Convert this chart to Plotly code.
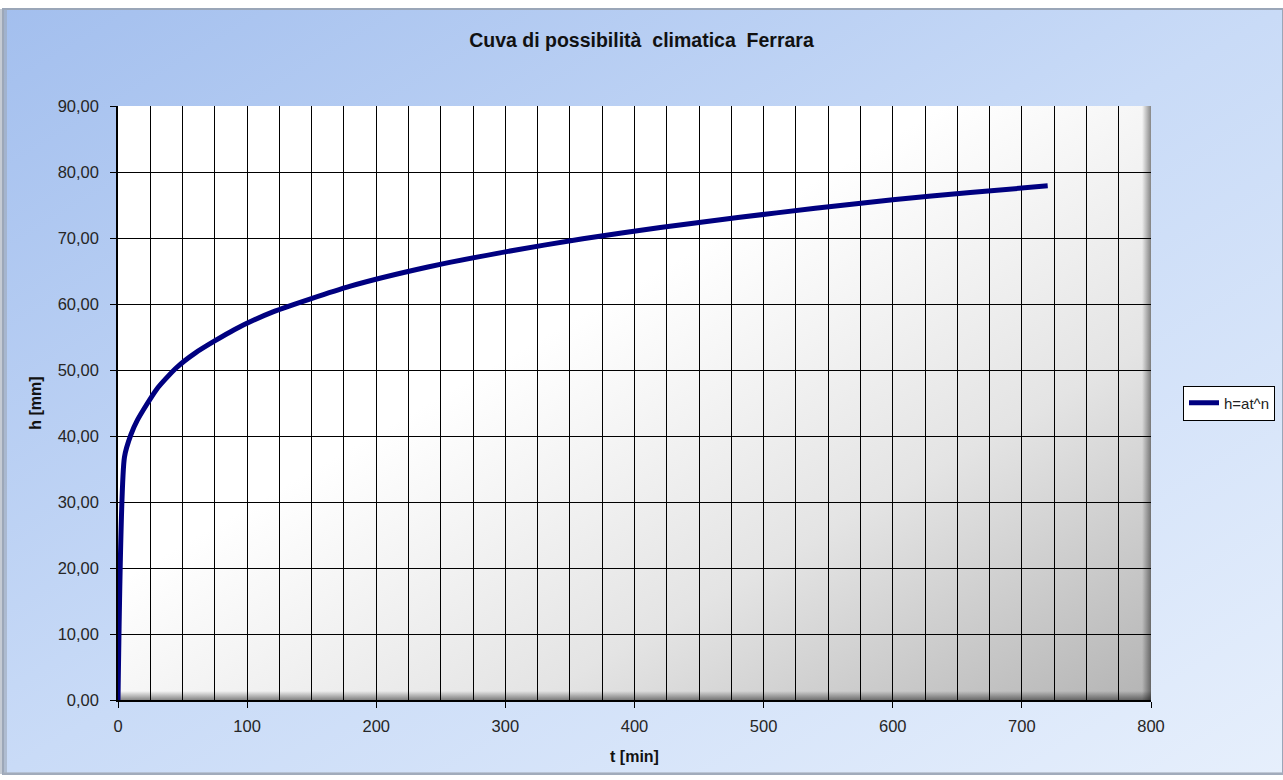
import base64
import plotly.graph_objects as go

# Data
t_min = [0, 5, 10, 15, 30, 45, 60, 90, 120, 180, 240, 300, 360, 420, 480, 540, 600, 660, 720]
h_mm = [0.0, 36.8, 40.2, 42.4, 47.1, 50.3, 52.6, 56.1, 58.8, 62.7, 65.6, 67.9, 69.9, 71.6, 73.1, 74.5, 75.8, 76.9, 77.9]
series_name = "h=at^n"
title_text = "Cuva di possibilità  climatica  Ferrara"
x_title = "t [min]"
y_title = "h [mm]"

W, H = 1283, 780
L, R, T, B = 118, 132, 106, 80
PW, PH = W - L - R, H - T - B

FONT = "Liberation Sans, Arial, sans-serif"

bg_svg = f'''<svg xmlns="http://www.w3.org/2000/svg" width="{W}" height="{H}" viewBox="0 0 {W} {H}" preserveAspectRatio="none">
<defs>
<linearGradient id="g" x1="0" y1="0" x2="1" y2="1">
<stop offset="0" stop-color="#a3bfee"/>
<stop offset="0.5" stop-color="#c9dbf7"/>
<stop offset="1" stop-color="#e6effc"/>
</linearGradient>
</defs>
<rect x="0" y="0" width="{W}" height="{H}" fill="#ffffff"/>
<rect x="3" y="9" width="{W-3}" height="{H-15}" fill="url(#g)" stroke="#9aa6b8" stroke-width="2"/>
<rect x="0" y="9" width="7" height="{H-15}" fill="#9ea9b8" opacity="0.6"/>
<rect x="3" y="{H-8}" width="{W-3}" height="3" fill="#a6afbd" opacity="0.6"/>
</svg>'''

pa_svg = f'''<svg xmlns="http://www.w3.org/2000/svg" width="{PW}" height="{PH}" viewBox="0 0 {PW} {PH}" preserveAspectRatio="none">
<defs>
<linearGradient id="p" x1="0" y1="0" x2="1" y2="1">
<stop offset="0" stop-color="#ffffff"/>
<stop offset="0.4" stop-color="#ffffff"/>
<stop offset="0.7" stop-color="#e4e4e4"/>
<stop offset="1" stop-color="#b4b4b4"/>
</linearGradient>
<linearGradient id="r" x1="0" y1="0" x2="1" y2="0">
<stop offset="0" stop-color="#000000" stop-opacity="0"/>
<stop offset="1" stop-color="#000000" stop-opacity="0.45"/>
</linearGradient>
<linearGradient id="b" x1="0" y1="0" x2="0" y2="1">
<stop offset="0" stop-color="#000000" stop-opacity="0"/>
<stop offset="1" stop-color="#000000" stop-opacity="0.45"/>
</linearGradient>
</defs>
<rect x="0" y="0" width="{PW}" height="{PH}" fill="url(#p)"/>
<rect x="{PW-9}" y="0" width="9" height="{PH}" fill="url(#r)"/>
<rect x="0" y="{PH-9}" width="{PW}" height="9" fill="url(#b)"/>
</svg>'''


def uri(s):
    return "data:image/svg+xml;base64," + base64.b64encode(s.encode("utf-8")).decode("ascii")


fig = go.Figure()
fig.add_trace(go.Scatter(
    x=t_min, y=h_mm, mode="lines", name=series_name,
    line=dict(color="#000080", width=5, shape="spline", smoothing=0.6),
))

fig.update_layout(
    width=W, height=H,
    margin=dict(l=L, r=R, t=T, b=B, autoexpand=False),
    paper_bgcolor="#ffffff",
    plot_bgcolor="rgba(0,0,0,0)",
    separators=",.",
    font=dict(family=FONT, size=16, color="#262626"),
    title=dict(text=f"<b>{title_text}</b>", x=0.5, xref="container", xanchor="center",
               y=1 - 40 / H, yref="container", yanchor="middle",
               font=dict(family=FONT, size=19.5, color="#111111")),
    showlegend=True,
    legend=dict(x=(1183 - L) / PW, xanchor="left", y=0.5, yanchor="middle",
                bgcolor="#ffffff", bordercolor="#000000", borderwidth=1,
                font=dict(family=FONT, size=15, color="#222222"),
                itemwidth=30, tracegroupgap=0),
    images=[
        dict(source=uri(bg_svg), xref="paper", yref="paper",
             x=-L / PW, y=1 + T / PH, sizex=W / PW, sizey=H / PH,
             sizing="stretch", layer="below", xanchor="left", yanchor="top"),
        dict(source=uri(pa_svg), xref="paper", yref="paper",
             x=0, y=1, sizex=1, sizey=1,
             sizing="stretch", layer="below", xanchor="left", yanchor="top"),
    ],
)

fig.update_xaxes(
    range=[0, 800], dtick=100, tick0=0,
    showgrid=True, gridcolor="#000000", gridwidth=1,
    minor=dict(dtick=25, showgrid=True, gridcolor="#000000", gridwidth=1),
    ticks="outside", ticklen=6, tickcolor="#000000",
    ticklabelstandoff=4,
    showline=True, linecolor="#000000", linewidth=1.5,
    zeroline=False,
    tickfont=dict(family=FONT, size=16.5, color="#262626"),
    title=dict(text=f"<b>{x_title}</b>", standoff=17,
               font=dict(family=FONT, size=16, color="#111111")),
)
fig.update_yaxes(
    range=[0, 90], dtick=10, tick0=0, tickformat=".2f",
    showgrid=True, gridcolor="#000000", gridwidth=1,
    ticks="outside", ticklen=6, tickcolor="#000000",
    ticklabelstandoff=8,
    showline=True, linecolor="#000000", linewidth=1.5,
    zeroline=False,
    tickfont=dict(family=FONT, size=16.5, color="#262626"),
    title=dict(text=f"<b>{y_title}</b>", standoff=12,
               font=dict(family=FONT, size=16, color="#111111")),
)

fig.write_html("out.html", config={"displayModeBar": False},
               post_script="document.body.style.margin='0';document.body.style.overflow='hidden';")
